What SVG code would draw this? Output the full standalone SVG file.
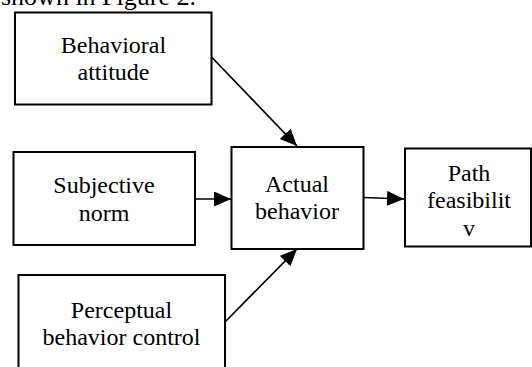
<svg xmlns="http://www.w3.org/2000/svg" width="532" height="367" viewBox="0 0 532 367">
<style>
.box{fill:#fff;stroke:#000;stroke-width:2}
.t{font-size:24px;fill:#000;text-anchor:middle}
.c{stroke:#000;stroke-width:1.7;fill:none;marker-end:url(#ah)}
</style>
<defs>
<marker id="ah" markerUnits="userSpaceOnUse" markerWidth="19" markerHeight="17" refX="17" refY="7.5" orient="auto">
<path d="M0,0 L17,7.5 L0,15 Z" fill="#000"/>
</marker>
</defs>
<rect width="532" height="367" fill="#fff"/>
<g font-family="'Liberation Serif', 'Times New Roman', 'DejaVu Serif', serif">
<text x="1" y="5" font-size="26" fill="#000">shown in Figure 2.</text>
<g id="n-attitude">
<rect class="box" x="15" y="12.5" width="196.5" height="92"/>
<text class="t" x="113.5" y="53">Behavioral</text>
<text class="t" x="113.5" y="80">attitude</text>
</g>
<g id="n-norm">
<rect class="box" x="13.5" y="152" width="181.5" height="93"/>
<text class="t" x="104" y="193">Subjective</text>
<text class="t" x="104" y="220.5">norm</text>
</g>
<g id="n-control">
<rect class="box" x="18.5" y="275" width="206.5" height="100"/>
<text class="t" x="121.5" y="318">Perceptual</text>
<text class="t" x="121.5" y="345">behavior control</text>
</g>
<g id="n-actual">
<rect class="box" x="231.5" y="147" width="132" height="102"/>
<text class="t" x="297" y="191.5">Actual</text>
<text class="t" x="297" y="218.5">behavior</text>
</g>
<g id="n-path">
<rect class="box" x="405" y="148.5" width="126" height="98"/>
<text class="t" x="469" y="180.5">Path</text>
<text class="t" x="469" y="208">feasibilit</text>
<text class="t" x="469" y="236">v</text>
</g>
</g>
<g id="connectors">
<line class="c" x1="211.5" y1="57" x2="297" y2="146"/>
<line class="c" x1="195" y1="199" x2="231" y2="199"/>
<line class="c" x1="225" y1="322" x2="297" y2="249"/>
<line class="c" x1="363.5" y1="197.5" x2="404" y2="199"/>
</g>
</svg>
